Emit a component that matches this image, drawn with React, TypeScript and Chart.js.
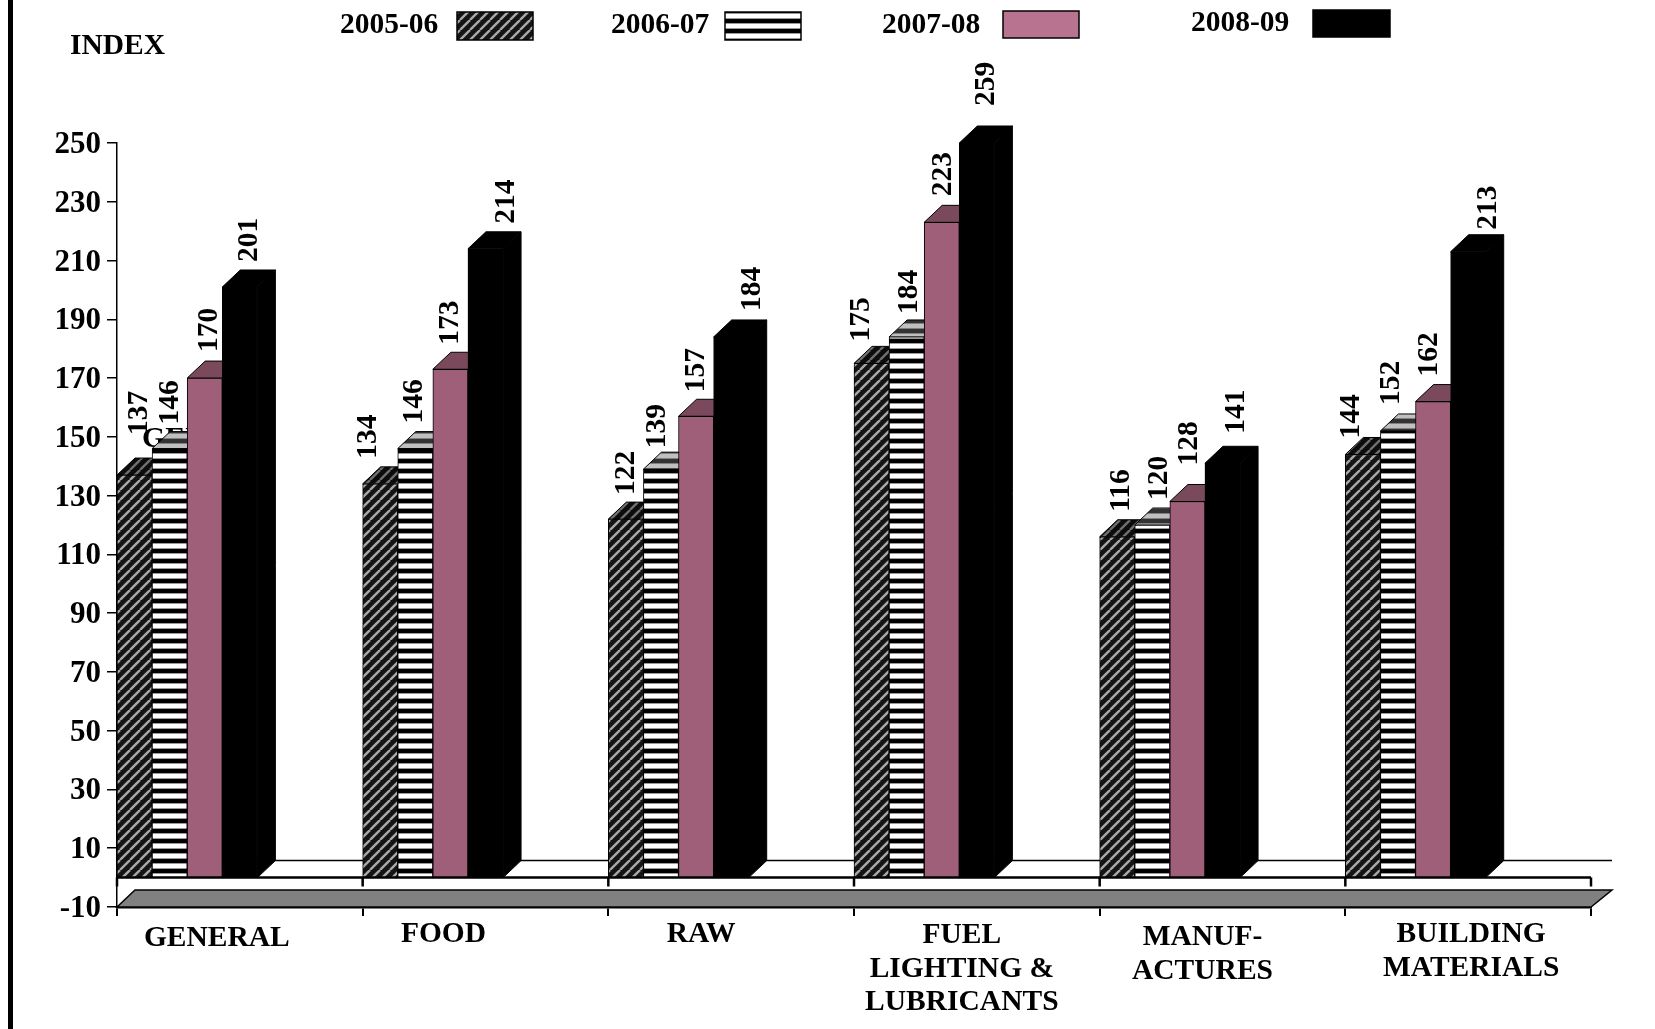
import React, { useEffect, useRef } from "react";
import { Chart, registerables } from "chart.js";

Chart.register(...registerables);

const categories = ["GENERAL", "FOOD", "RAW", "FUEL", "MANUF", "BUILDING"];
const categoryLines = [
  ["GENERAL"],
  ["FOOD"],
  ["RAW"],
  ["FUEL", "LIGHTING &", "LUBRICANTS"],
  ["MANUF-", "ACTURES"],
  ["BUILDING", "MATERIALS"],
];
const seriesNames = ["2005-06", "2006-07", "2007-08", "2008-09"];
const values0506 = [137, 134, 122, 175, 116, 144];
const values0607 = [146, 146, 139, 184, 120, 152];
const values0708 = [170, 173, 157, 223, 128, 162];
const values0809 = [201, 214, 184, 259, 141, 213];
const yMin = -10;
const yMax = 250;
const yStep = 20;

// hand-placed label offsets of the original, relative to each bar
const labelNudgeX = [
  [5, -12, 0, -10, 4, -12],
  [1, -1, -4, 3, 7, -7],
  [5, 0, 0, 2, 2, -4],
  [10, 21, 21, 10, 14, 20],
];
const labelNudgeY = [
  [-14, 1, 2, 4, 1, 10],
  [2, 1, 5, 3, 1, 0],
  [0, 1.5, 2, 0, -10, 1],
  [1, 1, 0, 9, -3.5, 4],
];
const catLabelNudgeX = [-23, -42, -30, -15, -20, 3];
const catLabelY = [946, 942, 942, 943, 945, 942];
const legendText = [[340, 24], [611, 24], [882, 24], [1191, 22]];
const legendBox = [[457, 12, 76, 28], [725, 12, 76, 28], [1003, 11, 76, 27], [1313, 10, 77, 27]];

const DX = 18;
const DY = 17;
const FONT = '"Liberation Serif", "Times New Roman", serif';

function tile(size: number, draw: (c: CanvasRenderingContext2D) => void) {
  const cv = document.createElement("canvas");
  cv.width = size;
  cv.height = size;
  const c = cv.getContext("2d")!;
  draw(c);
  return document.createElement("canvas").getContext("2d")!.createPattern(cv, "repeat")!;
}
function hatch(base: string, line: string) {
  return tile(10, (c) => {
    c.fillStyle = base;
    c.fillRect(0, 0, 10, 10);
    c.strokeStyle = line;
    c.lineWidth = 2.4;
    for (const o of [-10, 0, 10]) {
      c.beginPath();
      c.moveTo(o, 10);
      c.lineTo(o + 10, 0);
      c.stroke();
    }
  });
}
function stripes(top: string, mid: string, bottom: string) {
  return tile(10, (c) => {
    c.fillStyle = top;
    c.fillRect(0, 0, 10, 10);
    c.fillStyle = mid;
    c.fillRect(0, 4, 10, 5);
    c.fillStyle = bottom;
    c.fillRect(0, 3, 10, 1);
    c.fillRect(0, 8, 10, 1);
  });
}

export default function App() {
  const ref = useRef<HTMLCanvasElement | null>(null);
  useEffect(() => {
    const hatchFront = hatch("#141414", "#a8a8a8");
    const hatchTop = hatch("#0c0c0c", "#707070");
    const stripeFront = stripes("#000000", "#ffffff", "#9a9a9a");
    const stripeTop = stripes("#333333", "#c0c0c0", "#808080");
    const fronts: any[] = [hatchFront, stripeFront, "#9f5f78", "#000000"];
    const tops: any[] = [hatchTop, stripeTop, "#7a4a5c", "#000000"];
    const sides: any[] = [hatchTop, stripeTop, "#6f4455", "#000000"];
    const swatches: any[] = [hatchFront, stripeFront, "#b7738f", "#000000"];

    const scene = {
      id: "scene",
      beforeDatasetsDraw(chart: any) {
        const { ctx, chartArea: a, scales } = chart;
        const y0 = scales.y.getPixelForValue(0);
        const yB = scales.y.getPixelForValue(yMin);
        ctx.save();
        // rear floor line
        ctx.strokeStyle = "#000";
        ctx.lineWidth = 1.5;
        ctx.beginPath();
        ctx.moveTo(a.left + DX, y0 - DY);
        ctx.lineTo(a.right + 21, y0 - DY);
        ctx.stroke();
        // slab below the zero line
        ctx.fillStyle = "#808080";
        ctx.beginPath();
        ctx.moveTo(a.left, yB);
        ctx.lineTo(a.left + DX, yB - DY);
        ctx.lineTo(a.right + 21, yB - DY);
        ctx.lineTo(a.right, yB);
        ctx.closePath();
        ctx.fill();
        ctx.lineWidth = 1.5;
        ctx.stroke();
        // stray text left behind the bars in the original
        ctx.fillStyle = "#000";
        ctx.font = `bold 30px ${FONT}`;
        ctx.textAlign = "left";
        ctx.textBaseline = "alphabetic";
        ctx.fillText(categories[0].slice(0, 4), 142, 447);

        chart.data.datasets.forEach((ds: any, i: number) => {
          if (i > 3) return;
          const meta = chart.getDatasetMeta(i);
          meta.data.forEach((bar: any) => {
            const w = bar.width;
            const l = bar.x - w / 2;
            const r = l + w;
            const t = Math.max(bar.y, a.top);
            const b = bar.base;
            ctx.lineWidth = 1;
            ctx.strokeStyle = "#000";
            // top face
            ctx.fillStyle = tops[i];
            ctx.beginPath();
            ctx.moveTo(l, t);
            ctx.lineTo(l + DX, t - DY);
            ctx.lineTo(r + DX, t - DY);
            ctx.lineTo(r, t);
            ctx.closePath();
            ctx.fill();
            ctx.stroke();
            // side face
            ctx.fillStyle = sides[i];
            ctx.beginPath();
            ctx.moveTo(r, t);
            ctx.lineTo(r + DX, t - DY);
            ctx.lineTo(r + DX, b - DY);
            ctx.lineTo(r, b);
            ctx.closePath();
            ctx.fill();
            ctx.stroke();
            // front, cut at the top of the scale
            ctx.save();
            ctx.beginPath();
            ctx.rect(0, a.top, chart.width, chart.height - a.top);
            ctx.clip();
            bar.draw(ctx);
            ctx.restore();
          });
        });
        // zero line with its ticks
        ctx.strokeStyle = "#000";
        ctx.lineWidth = 2.5;
        ctx.beginPath();
        ctx.moveTo(a.left, y0);
        ctx.lineTo(a.right, y0);
        const step = (a.right - a.left) / categories.length;
        for (let k = 0; k <= categories.length; k++) {
          ctx.moveTo(a.left + k * step, y0);
          ctx.lineTo(a.left + k * step, y0 + 9);
        }
        ctx.stroke();
        ctx.restore();
        return false;
      },
      afterDraw(chart: any) {
        const { ctx, chartArea: a, scales } = chart;
        ctx.save();
        ctx.fillStyle = "#000";
        // page rule on the left
        ctx.fillRect(8, 0, 5, chart.height);
        // value labels
        ctx.font = `bold 29.5px ${FONT}`;
        chart.data.datasets.forEach((ds: any, i: number) => {
          if (i > 3) return;
          chart.getDatasetMeta(i).data.forEach((bar: any, k: number) => {
            const t = Math.max(bar.y, a.top) - DY;
            const extra = i === 3 && k === 3 ? 20 : 0;
            ctx.save();
            ctx.translate(bar.x + labelNudgeX[i][k], t - 9 + labelNudgeY[i][k] - extra);
            ctx.rotate(-Math.PI / 2);
            ctx.textAlign = "left";
            ctx.textBaseline = "middle";
            ctx.fillText(String(ds.data[k]), 0, 0);
            ctx.restore();
          });
        });
        // category labels
        ctx.textAlign = "center";
        ctx.textBaseline = "alphabetic";
        categoryLines.forEach((lines, k) => {
          const cx = scales.x.getPixelForValue(k) + catLabelNudgeX[k];
          lines.forEach((s, j) => ctx.fillText(s, cx, catLabelY[k] + j * 33.5));
        });
        // axis title and legend
        ctx.textAlign = "left";
        ctx.fillText("INDEX", 70, 54);
        seriesNames.forEach((s, i) => {
          ctx.textAlign = "left";
          ctx.fillStyle = "#000";
          ctx.fillText(s, legendText[i][0], legendText[i][1] + 9);
          const [x, y, w, h] = legendBox[i];
          ctx.fillStyle = swatches[i];
          ctx.fillRect(x, y, w, h);
          ctx.lineWidth = 1.5;
          ctx.strokeStyle = "#000";
          ctx.strokeRect(x, y, w, h);
        });
        ctx.restore();
      },
    };

    const spacer = { label: "", data: [] as number[], backgroundColor: "transparent" };
    const chart = new Chart(ref.current!, {
      type: "bar",
      data: {
        labels: categories,
        datasets: [
          { label: seriesNames[0], data: values0506, backgroundColor: fronts[0], borderColor: "#000", borderWidth: 1 },
          { label: seriesNames[1], data: values0607, backgroundColor: fronts[1], borderColor: "#000", borderWidth: 1 },
          { label: seriesNames[2], data: values0708, backgroundColor: fronts[2], borderColor: "#000", borderWidth: 1 },
          { label: seriesNames[3], data: values0809, backgroundColor: fronts[3], borderColor: "#000", borderWidth: 1 },
          { ...spacer },
          { ...spacer },
          { ...spacer },
        ],
      },
      options: {
        responsive: false,
        animation: false,
        layout: { padding: { top: 143, right: 64, left: 0, bottom: 0 } },
        plugins: { legend: { display: false }, tooltip: { enabled: false } },
        datasets: { bar: { categoryPercentage: 1, barPercentage: 1 } },
        scales: {
          x: {
            type: "category",
            afterFit: (s: any) => { s.height = 122; },
            ticks: { display: false },
            grid: { drawOnChartArea: false, drawTicks: true, tickLength: 9, color: "#000", lineWidth: 2 },
            border: { color: "#000", width: 2.5 },
          },
          y: {
            type: "linear",
            min: yMin,
            max: yMax,
            afterFit: (s: any) => { s.width = 117; },
            ticks: {
              stepSize: yStep,
              padding: 6,
              labelOffset: 2,
              color: "#000",
              font: { family: FONT, size: 31, weight: "bold" },
            },
            grid: { drawOnChartArea: false, drawTicks: true, tickLength: 10, color: "#000", lineWidth: 1.5 },
            border: { color: "#000", width: 1.5 },
          },
        },
      } as any,
      plugins: [scene],
    });
    return () => chart.destroy();
  }, []);
  return (
    <div style={{ position: "absolute", left: 0, top: 0, width: 1655, height: 1029, background: "#fff" }}>
      <canvas ref={ref} width={1655} height={1029} style={{ display: "block" }} />
    </div>
  );
}
